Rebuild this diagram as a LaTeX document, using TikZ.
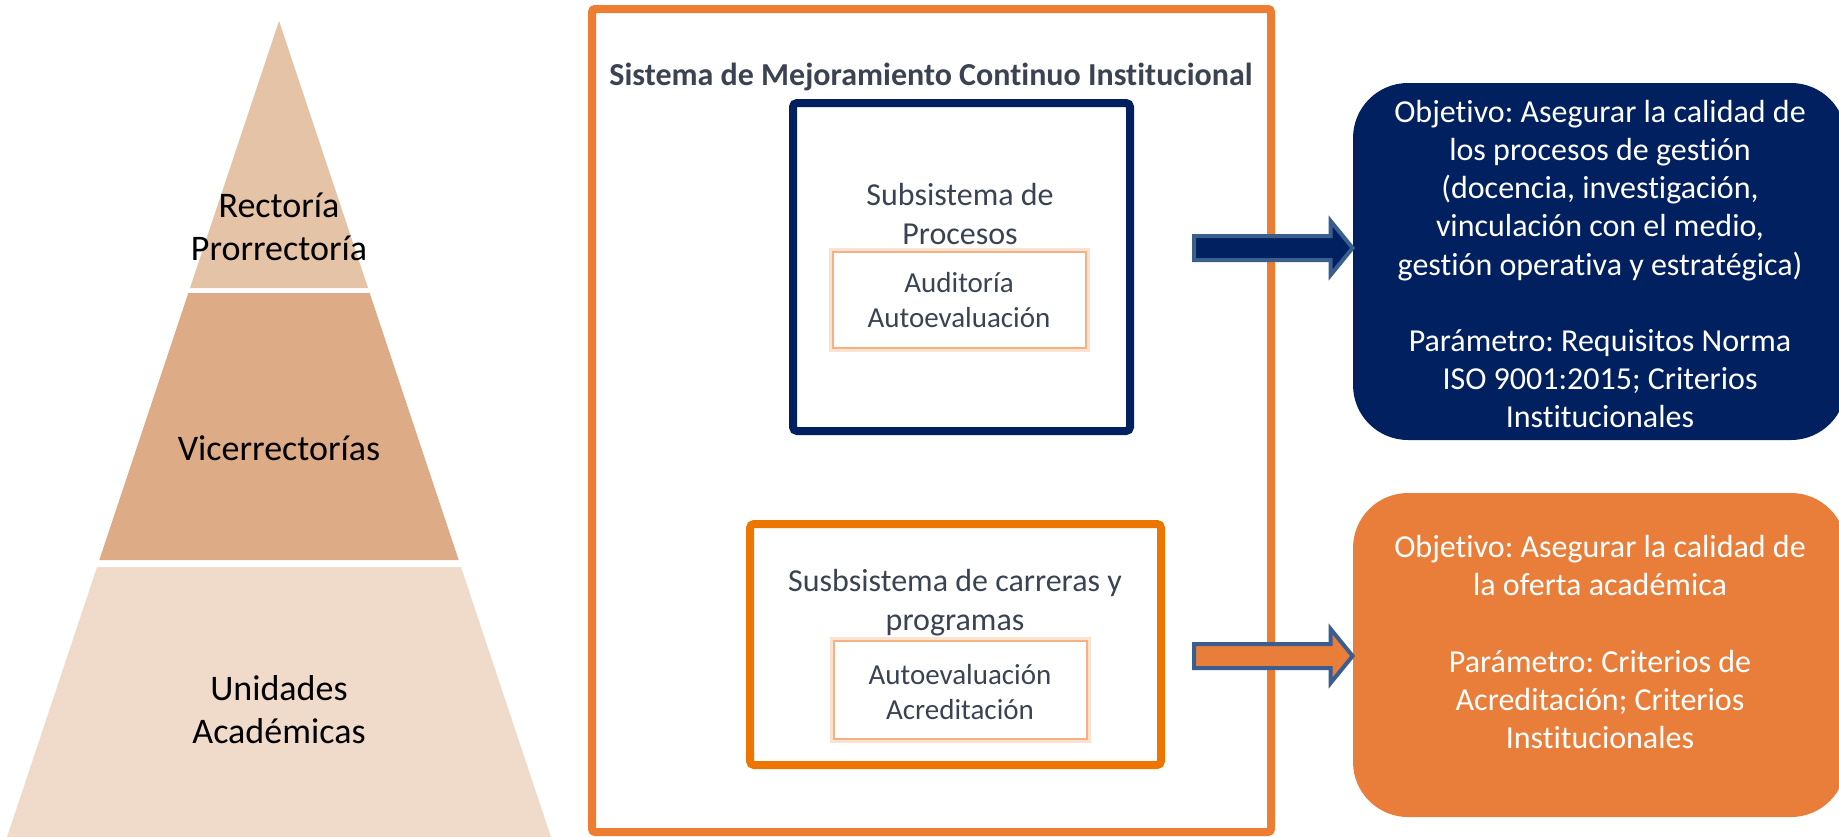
\documentclass[tikz,border=0pt]{standalone}
\usepackage{fontspec}
\setmainfont{Carlito}[Ligatures=CommonOff]
\frenchspacing
\usetikzlibrary{calc}
\definecolor{navy}{HTML}{002060}
\definecolor{frameorange}{HTML}{ED7D31}
\definecolor{suborange}{HTML}{EC7600}
\definecolor{boxorange}{HTML}{E97E3B}
\definecolor{arrowedge}{HTML}{3A5F8F}
\definecolor{darktext}{HTML}{3B4352}
\definecolor{glowline}{HTML}{F4B183}
\definecolor{glowsoft}{HTML}{FBE3CF}
\definecolor{pyrtop}{HTML}{E5C3A6}
\definecolor{pyrmid}{HTML}{DDAC87}
\definecolor{pyrbot}{HTML}{F0DBCA}
\begin{document}
\begin{tikzpicture}[x=0.5pt,y=-0.5pt,
  pyrtext/.style={font=\fontsize{18}{21.5}\selectfont, align=center, text=black, inner sep=0},
  subtext/.style={font=\fontsize{16}{19.5}\selectfont, align=center, text=darktext, inner sep=0},
  tooltext/.style={font=\fontsize{14.5}{17.5}\selectfont, align=center, text=darktext, inner sep=0},
  objtext/.style={font=\fontsize{16}{19.1}\selectfont\frenchspacing, align=center, text=white, inner sep=0},
  titletext/.style={font=\fontsize{16}{19}\selectfont\bfseries, text=darktext, inner sep=0},
  framebox/.style={draw=frameorange, line width=4pt, rounded corners=1.5pt, inner sep=0},
  procbox/.style={draw=navy, line width=4pt, rounded corners=2pt, inner sep=0},
  carrbox/.style={draw=suborange, line width=4pt, rounded corners=2pt, inner sep=0},
  toolbox/.style={draw=glowline, line width=1.2pt, fill=white, inner sep=0,
    preaction={draw=glowsoft, line width=4pt}},
  objblue/.style={fill=navy, rounded corners=27.5pt, inner sep=0},
  objorange/.style={fill=boxorange, rounded corners=27.5pt, inner sep=0},
  blockarrow/.style={draw=arrowedge, line width=2pt, line join=miter},
]
\useasboundingbox (0,0) rectangle (1839,836);
\fill[white] (0,0) rectangle (1839,836);
\clip (0,0) rectangle (1839,836);

% pyramid
\fill[pyrtop] (279,21) -- (368,288) -- (190,288) -- cycle;
\fill[pyrmid] (188.3,293) -- (369.7,293) -- (458.7,560) -- (99.3,560) -- cycle;
\fill[pyrbot] (97,567) -- (461,567) -- (551.3,838) -- (6.7,838) -- cycle;
\node[pyrtext] (rect) at (279,227) {Rectoría\\Prorrectoría};
\node[pyrtext] (vice) at (279,448) {Vicerrectorías};
\node[pyrtext] (unid) at (279,710) {Unidades\\Académicas};

% main frame
\node[framebox, minimum width=339.5pt, minimum height=411.5pt] (frame) at (931.5,420.5) {};
\node[titletext] (title) at (931,77) {Sistema de Mejoramiento Continuo Institucional};

% subsystem of processes
\node[procbox, minimum width=168.5pt, minimum height=164pt] (proc) at (961.5,267) {};
\node[subtext] (proctxt) at (960,214) {Subsistema de\\Procesos};
\node[toolbox, minimum width=126.5pt, minimum height=48pt] (aud) at (959.5,300) {};
\node[tooltext] (audtxt) at (959,300.5) {Auditoría\\Autoevaluación};

% subsystem of careers
\node[carrbox, minimum width=205.5pt, minimum height=120.5pt] (carr) at (955.5,644.5) {};
\node[subtext] (carrtxt) at (955,602.5) {Susbsistema de carreras y\\programas};
\node[toolbox, minimum width=126.5pt, minimum height=49pt] (acr) at (960.5,690) {};
\node[tooltext] (acrtxt) at (960,692) {Autoevaluación\\Acreditación};

% objective boxes
\node[objblue, minimum width=246.5pt, minimum height=178.5pt] (obj1) at (1599.5,261.5) {};
\node[objtext] (obj1txt) at (1600,264) {Objetivo: Asegurar la calidad de\\los procesos de gestión\\(docencia, investigación,\\vinculación con el medio,\\gestión operativa y estratégica)\\[19.1pt]Parámetro: Requisitos Norma\\ISO 9001:2015; Criterios\\Institucionales};
\node[objorange, minimum width=246.5pt, minimum height=162pt] (obj2) at (1599.5,655) {};
\node[objtext] (obj2txt) at (1600,642) {Objetivo: Asegurar la calidad de\\la oferta académica\\[19.1pt]Parámetro: Criterios de\\Acreditación; Criterios\\Institucionales};

% block arrows
\coordinate (a1s) at (1194,248);
\coordinate (a1t) at (obj1.west |- a1s);
\draw[blockarrow, fill=navy] ($(a1s)+(0,-12)$) -- ($(a1t)+(-22,-12)$) -- ($(a1t)+(-22,-27)$) -- (a1t)
  -- ($(a1t)+(-22,27)$) -- ($(a1t)+(-22,12)$) -- ($(a1s)+(0,12)$) -- cycle;
\coordinate (a2s) at (1194,656);
\coordinate (a2t) at (obj2.west |- a2s);
\draw[blockarrow, fill=boxorange] ($(a2s)+(0,-12)$) -- ($(a2t)+(-22,-12)$) -- ($(a2t)+(-22,-27)$) -- (a2t)
  -- ($(a2t)+(-22,27)$) -- ($(a2t)+(-22,12)$) -- ($(a2s)+(0,12)$) -- cycle;
\end{tikzpicture}
\end{document}
